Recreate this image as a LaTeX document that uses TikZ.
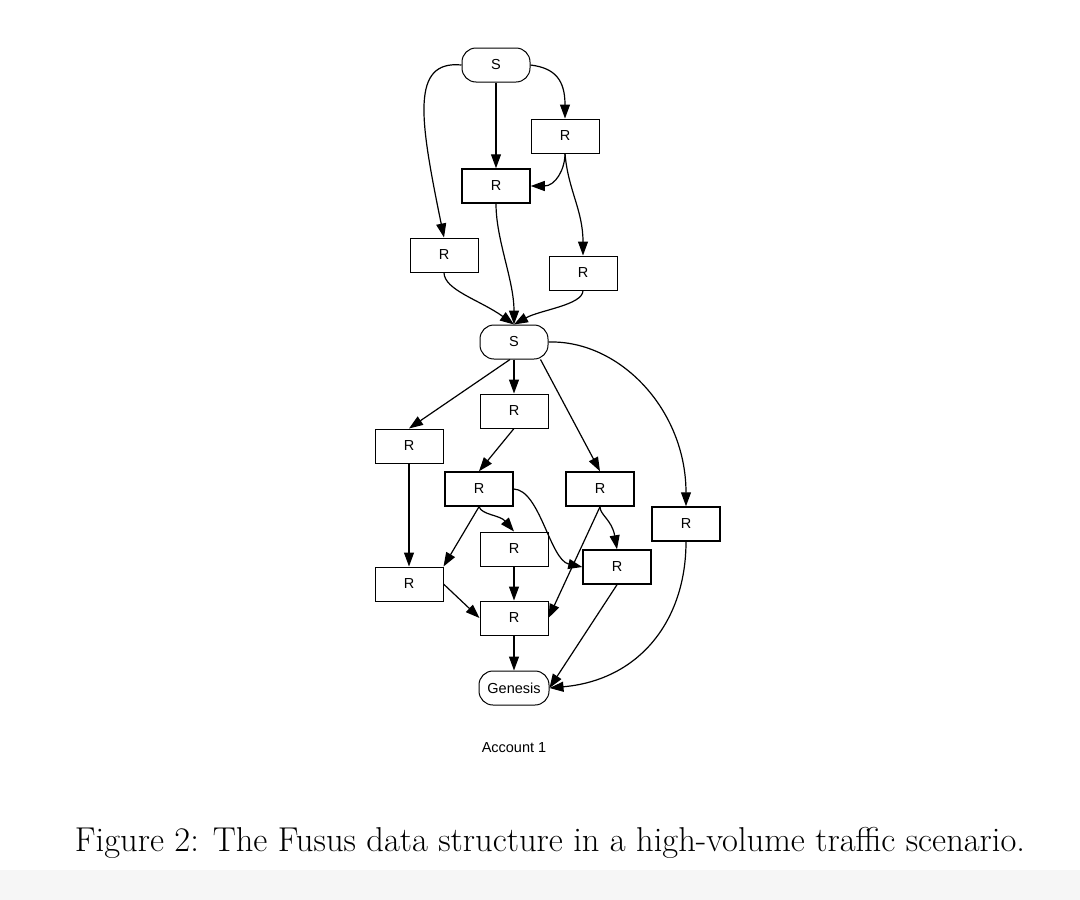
\documentclass[tikz,border=0pt]{standalone}
\usepackage{fontspec}
\setsansfont{Liberation Sans}
\usetikzlibrary{arrows.meta}
\begin{document}
\begin{tikzpicture}[x=1pt,y=-1pt,
  box/.style={draw,line width=1pt,minimum width=68pt,minimum height=34pt,inner sep=0pt,font=\sffamily\fontsize{14.5}{16}\selectfont},
  rbox/.style={box,rounded corners=14pt},
  arr/.style={line width=1.2pt,-{Triangle[length=14pt,width=10pt]}}]
\useasboundingbox (0,0) rectangle (1080,900);
\fill[gray!7] (0,870) rectangle (1080,900);
\node[rbox] (s1) at (496,65) {S};
\node[box] (ra) at (565,136) {R};
\node[box,line width=1.5pt] (rb) at (496,186) {R};
\node[box] (rc) at (444,255) {R};
\node[box] (rd) at (583,273) {R};
\node[rbox] (s2) at (514,342) {S};
\node[box] (re) at (514,411) {R};
\node[box] (rf) at (409,446) {R};
\node[box,line width=1.5pt] (rg) at (479,489) {R};
\node[box,line width=1.5pt] (rh) at (600,489) {R};
\node[box,line width=1.5pt] (ri) at (686,524) {R};
\node[box] (rj) at (514,549) {R};
\node[box,line width=1.5pt] (rk) at (617,567) {R};
\node[box] (rl) at (409,584) {R};
\node[box] (rm) at (514,618) {R};
\node[rbox,minimum width=70pt] (gen) at (514,688) {Genesis};
\node[font=\sffamily\fontsize{14.5}{16}\selectfont] (acc) at (514,748) {Account 1};
\node[font=\fontsize{34.5}{40}\selectfont] (cap) at (550,843) {Figure 2: The Fusus data structure in a high-volume traffic scenario.};
\draw[arr] (s1.west) .. controls (410,60) and (420,120) .. (rc.north);
\draw[arr] (s1) -- (rb);
\draw[arr] (s1.east) .. controls (555,68) and (565,80) .. (ra.north);
\draw[arr] (ra.south) .. controls (565,170) and (555,186) .. (rb.east);
\draw[arr] (ra.south) .. controls (568,190) and (583,210) .. (rd.north);
\draw[arr] (rb.south) .. controls (496,240) and (514,280) .. (s2.north);
\draw[arr] (rc.south) .. controls (444,290) and (480,300) .. (s2.north);
\draw[arr] (rd.south) .. controls (583,305) and (540,310) .. (s2.north);
\draw[arr] (s2) -- (re);
\draw[arr] (s2.south) ++(-4,0) -- (rf.north);
\draw[arr] (s2.south east) ++(-8,0) -- (rh.north);
\draw[arr] (s2.east) .. controls (620,340) and (686,410) .. (ri.north);
\draw[arr] (re.south) -- (rg.north);
\draw[arr] (rf) -- (rl);
\draw[arr] (rg.south) -- (rl.north east);
\draw[arr] (rg.south) .. controls (482,515) and (500,515) .. (rj.north);
\draw[arr] (rg.east) .. controls (540,490) and (550,560) .. (rk.west);
\draw[arr] (rh.south) .. controls (600,515) and (612,520) .. (rk.north);
\draw[arr] (rh.south) -- (rm.east);
\draw[arr] (rj) -- (rm);
\draw[arr] (rl.east) -- (rm.west);
\draw[arr] (rm) -- (gen);
\draw[arr] (rk.south) -- (gen.east);
\draw[arr] (ri.south) .. controls (686,620) and (640,680) .. (gen.east);
\end{tikzpicture}
\end{document}
